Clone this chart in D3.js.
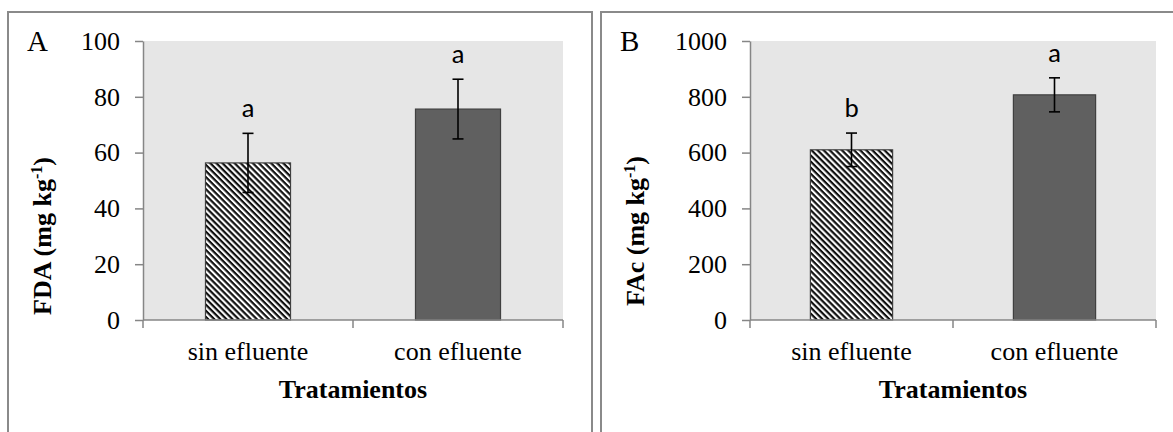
<!DOCTYPE html>
<html>
<head>
<meta charset="utf-8">
<script src="https://cdn.jsdelivr.net/npm/d3@7"></script>
<style>
  body { margin: 0; background: #fff; }
  svg { display: block; }
</style>
</head>
<body>
<div id="chart"></div>
<script>
// values
const categories = ["sin efluente", "con efluente"];

const fdaMeans = [56.3, 75.6];
const fdaErrors = [10.6, 10.7];
const fdaLetters = ["a", "a"];
const fdaTicks = [0, 20, 40, 60, 80, 100];

const facMeans = [610, 807];
const facErrors = [60, 61];
const facLetters = ["b", "a"];
const facTicks = [0, 200, 400, 600, 800, 1000];

const width = 1173;
const height = 432;
const serif = "'Liberation Serif', 'Times New Roman', serif";
const sans = "Carlito, Calibri, Lato, 'Open Sans', sans-serif";

const svg = d3.select("#chart").append("svg")
    .attr("width", width)
    .attr("height", height);

// hatch for the "sin efluente" bars
const defs = svg.append("defs");
const hatch = defs.append("pattern")
    .attr("id", "hatch")
    .attr("patternUnits", "userSpaceOnUse")
    .attr("width", 8)
    .attr("height", 4.3)
    .attr("patternTransform", "rotate(45)");
hatch.append("rect").attr("width", 8).attr("height", 4.3).attr("fill", "#fff");
hatch.append("rect").attr("width", 8).attr("height", 2.2).attr("fill", "#111");

function drawPanel(opt) {
    const g = svg.append("g");

    // frame around the panel
    g.append("rect")
        .attr("x", opt.frame[0])
        .attr("y", 12)
        .attr("width", opt.frame[1] - opt.frame[0])
        .attr("height", 440)
        .attr("fill", "none")
        .attr("stroke", "#8a8a8a")
        .attr("stroke-width", 2);

    const x = d3.scaleBand()
        .domain(categories)
        .range([opt.left, opt.right])
        .paddingInner(0.595)
        .paddingOuter(0.2975);

    const y = d3.scaleLinear()
        .domain([0, opt.ticks[opt.ticks.length - 1]])
        .range([320, 41]);

    // plot background
    g.append("rect")
        .attr("x", opt.left)
        .attr("y", y.range()[1])
        .attr("width", opt.right - opt.left)
        .attr("height", y.range()[0] - y.range()[1])
        .attr("fill", "#e6e6e6");

    // bars
    g.selectAll("rect.bar")
        .data(opt.means)
        .join("rect")
        .attr("class", "bar")
        .attr("x", (d, i) => x(categories[i]))
        .attr("y", d => y(d))
        .attr("width", x.bandwidth())
        .attr("height", d => y(0) - y(d))
        .attr("fill", (d, i) => i === 0 ? "url(#hatch)" : "#606060")
        .attr("stroke", "#404040")
        .attr("stroke-width", 1.2);

    // error bars
    const eb = g.selectAll("g.err")
        .data(opt.means)
        .join("g")
        .attr("class", "err")
        .attr("stroke", "#000")
        .attr("stroke-width", 1.6);
    eb.append("line")
        .attr("x1", (d, i) => x(categories[i]) + x.bandwidth() / 2)
        .attr("x2", (d, i) => x(categories[i]) + x.bandwidth() / 2)
        .attr("y1", (d, i) => y(d - opt.errors[i]))
        .attr("y2", (d, i) => y(d + opt.errors[i]));
    [-1, 1].forEach(s => {
        eb.append("line")
            .attr("x1", (d, i) => x(categories[i]) + x.bandwidth() / 2 - 5.5)
            .attr("x2", (d, i) => x(categories[i]) + x.bandwidth() / 2 + 5.5)
            .attr("y1", (d, i) => y(d + s * opt.errors[i]))
            .attr("y2", (d, i) => y(d + s * opt.errors[i]));
    });

    // significance letters
    g.selectAll("text.letter")
        .data(opt.means)
        .join("text")
        .attr("class", "letter")
        .attr("x", (d, i) => x(categories[i]) + x.bandwidth() / 2)
        .attr("y", (d, i) => y(d + opt.errors[i]) - 16)
        .attr("text-anchor", "middle")
        .style("font-family", sans)
        .style("font-size", "27px")
        .text((d, i) => opt.letters[i]);

    // y axis
    const yAxis = d3.axisLeft(y)
        .tickValues(opt.ticks)
        .tickFormat(d3.format("d"))
        .tickSize(8)
        .tickSizeOuter(0)
        .tickPadding(15);
    g.append("g")
        .attr("transform", `translate(${opt.left},0)`)
        .call(yAxis)
        .call(a => a.select(".domain").attr("stroke", "#868686").attr("stroke-width", 1.5))
        .call(a => a.selectAll(".tick line").attr("stroke", "#868686").attr("stroke-width", 1.5))
        .call(a => a.selectAll(".tick text")
            .style("font-family", serif)
            .style("font-size", "26px")
            .attr("fill", "#000"));

    // x axis line + category boundary ticks
    g.append("line")
        .attr("x1", opt.left).attr("x2", opt.right)
        .attr("y1", y(0)).attr("y2", y(0))
        .attr("stroke", "#868686").attr("stroke-width", 1.5);
    g.selectAll("line.xtick")
        .data(d3.range(categories.length + 1))
        .join("line")
        .attr("class", "xtick")
        .attr("x1", i => opt.left + i * x.step())
        .attr("x2", i => opt.left + i * x.step())
        .attr("y1", y(0))
        .attr("y2", y(0) + 8)
        .attr("stroke", "#868686").attr("stroke-width", 1.5);

    g.selectAll("text.cat")
        .data(categories)
        .join("text")
        .attr("class", "cat")
        .attr("x", d => x(d) + x.bandwidth() / 2)
        .attr("y", 360)
        .attr("text-anchor", "middle")
        .style("font-family", serif)
        .style("font-size", "26px")
        .text(d => d);

    // axis titles
    g.append("text")
        .attr("x", (opt.left + opt.right) / 2)
        .attr("y", 398)
        .attr("text-anchor", "middle")
        .style("font-family", serif)
        .style("font-size", "26px")
        .style("font-weight", "bold")
        .text("Tratamientos");

    const yt = g.append("text")
        .attr("transform", `translate(${opt.titleX},${opt.titleY}) rotate(-90)`)
        .attr("text-anchor", "middle")
        .style("font-family", serif)
        .style("font-size", "26px")
        .style("font-weight", "bold");
    yt.append("tspan").text(opt.label + " (mg kg");
    yt.append("tspan").attr("dy", -9).style("font-size", "16px").text("-1");
    yt.append("tspan").attr("dy", 9).text(")");

    // panel letter
    g.append("text")
        .attr("x", opt.frame[0] + 19)
        .attr("y", 51)
        .style("font-family", serif)
        .style("font-size", "29px")
        .text(opt.tag);
}

drawPanel({
    tag: "A", label: "FDA",
    frame: [8, 592], left: 143, right: 563,
    titleX: 51, titleY: 236,
    means: fdaMeans, errors: fdaErrors, letters: fdaLetters, ticks: fdaTicks
});

drawPanel({
    tag: "B", label: "FAc",
    frame: [601, 1190], left: 750, right: 1156,
    titleX: 644, titleY: 231,
    means: facMeans, errors: facErrors, letters: facLetters, ticks: facTicks
});
</script>
</body>
</html>
